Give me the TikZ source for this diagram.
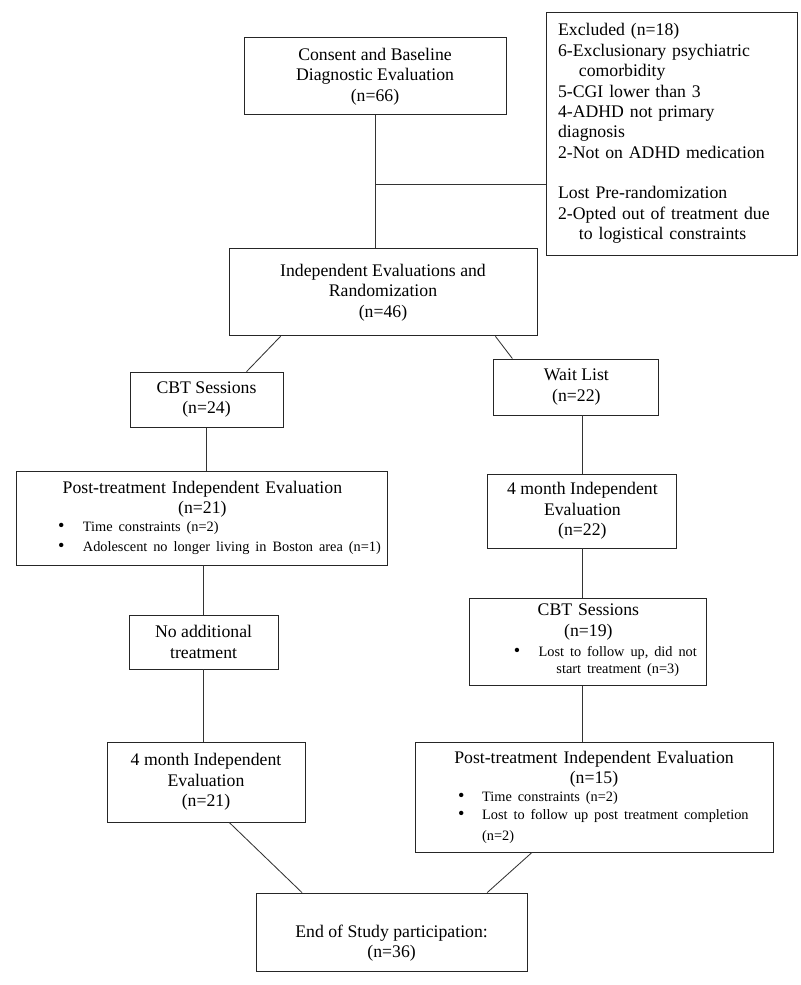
\documentclass[tikz,border=0pt]{standalone}
\usepackage{fontspec}
\setmainfont{Liberation Serif}
\usepackage{tikz}
\tikzset{box/.style={draw=black!85, line width=0.6pt, align=center, inner sep=0pt, font=\fontsize{12.6}{14.5}\selectfont}}
\tikzset{link/.style={draw=black!80, line width=0.6pt}}
\newcommand{\listfont}{\fontsize{10.2}{12.8}\selectfont}
\newcommand{\dotmark}{{\fontsize{13}{12.8}\selectfont\textbullet}}
\newcommand{\listrow}[3]{\makebox[\hsize][l]{\hspace*{#1}\makebox[#2][l]{\dotmark}#3}}
\setlength{\parindent}{0pt}

\begin{document}
\begin{tikzpicture}
\useasboundingbox (0,0) rectangle (20,-24.625);

\node[box, minimum width=6.55cm, minimum height=1.925cm] (consent) at (9.375,-1.91)
{Consent and Baseline\\Diagnostic Evaluation\\(n=66)};

\node[box, align=left, text width=5.675cm, minimum width=6.275cm, minimum height=6.075cm] (excluded) at (16.79,-3.34)
{Excluded (n=18)\\
6-Exclusionary psychiatric\\
\hspace*{0.52cm}comorbidity\\
5-CGI lower than 3\\
4-ADHD not primary\\
diagnosis\\
2-Not on ADHD medication\\[14.5pt]
Lost Pre-randomization\\
2-Opted out of treatment due\\
\hspace*{0.52cm}to logistical constraints};

\node[box, minimum width=7.7cm, minimum height=2.175cm] (indep) at (9.575,-7.31)
{Independent Evaluations and\\Randomization\\(n=46)};

\node[box, minimum width=3.825cm, minimum height=1.375cm] (cbtA) at (5.1625,-9.99)
{CBT Sessions\\(n=24)};

\node[box, minimum width=4.125cm, minimum height=1.4cm] (wait) at (14.41,-9.675)
{Wait List\\(n=22)};

\node[box, text width=9.275cm, minimum height=2.35cm] (postA) at (5.06,-12.95)
{Post-treatment Independent Evaluation\\(n=21)\par
\listfont\listrow{1.03cm}{0.62cm}{Time constraints (n=2)}\\
\listrow{1.03cm}{0.62cm}{Adolescent no longer living in Boston area (n=1)}};

\node[box, minimum width=4.725cm, minimum height=1.85cm] (waitEval) at (14.56,-12.775)
{4 month Independent\\Evaluation\\(n=22)};

\node[box, text width=5.925cm, minimum height=2.175cm] (cbtB) at (14.71,-16.04)
{CBT Sessions\\(n=19)\par
\listfont\makebox[\hsize][l]{\hspace*{1.1cm}\makebox[0.62cm][l]{\dotmark}\renewcommand{\arraystretch}{0.95}\begin{tabular}[t]{@{}c@{}}Lost to follow up, did not\\start treatment (n=3)\end{tabular}}};

\node[box, minimum width=3.725cm, minimum height=1.35cm] (noadd) at (5.09,-16.05)
{No additional\\treatment};

\node[box, minimum width=4.95cm, minimum height=2.0cm] (monthA) at (5.15,-19.55)
{4 month Independent\\Evaluation\\(n=21)};

\node[box, text width=8.95cm, minimum height=2.75cm] (postB) at (14.85,-19.925)
{Post-treatment Independent Evaluation\\(n=15)\par
\listfont\listrow{1.08cm}{0.6cm}{Time constraints (n=2)}\\
\listrow{1.08cm}{0.6cm}{Lost to follow up post treatment completion}\\
\makebox[\hsize][l]{\hspace*{1.68cm}(n=2)}};

\node[box, minimum width=6.775cm, minimum height=1.95cm] (end) at (9.79,-23.3)
{\strut\\End of Study participation:\\(n=36)};

\coordinate (split) at (9.375,-4.6);

\draw[link] (consent.south) -- (consent.south |- indep.north);
\draw[link] (split) -- (split -| excluded.west);
\draw[link] ([xshift=1.3cm]indep.south west) -- ([xshift=1.0cm]cbtA.north);
\draw[link] ([xshift=-1.05cm]indep.south east) -- ([xshift=-1.6cm]wait.north);
\draw[link] (cbtA.south) -- (cbtA.south |- postA.north);
\draw[link] (noadd.north |- postA.south) -- (noadd.north);
\draw[link] (noadd.south) -- (noadd.south |- monthA.north);
\draw[link] (waitEval.north |- wait.south) -- (waitEval.north);
\draw[link] (waitEval.south) -- (waitEval.south |- cbtB.north);
\draw[link] (waitEval.south |- cbtB.south) -- (waitEval.south |- postB.north);
\draw[link] ([xshift=0.58cm]monthA.south) -- ([xshift=-2.24cm]end.north);
\draw[link] ([xshift=-1.55cm]postB.south) -- ([xshift=2.39cm]end.north);
\end{tikzpicture}
\end{document}
